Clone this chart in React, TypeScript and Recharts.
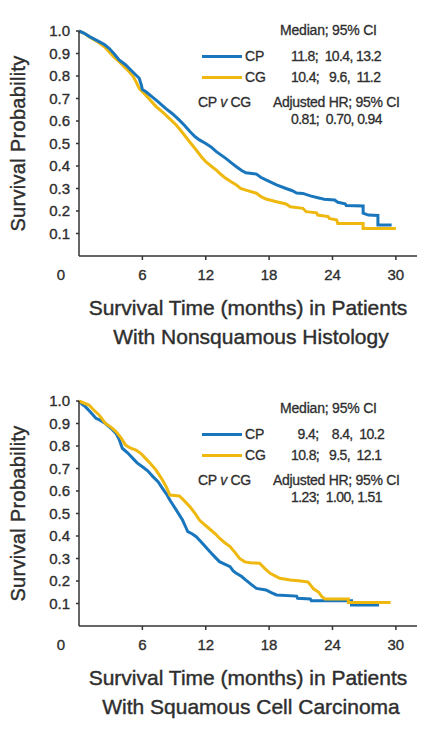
import React from 'react'
import { LineChart, Line, XAxis, YAxis, Legend, Label } from 'recharts'

// axis ticks
const monthTicks = [0, 6, 12, 18, 24, 30]
const probTicks = [0.1, 0.2, 0.3, 0.4, 0.5, 0.6, 0.7, 0.8, 0.9, 1.0]

// nonsquamous histology
const nonsqCpTime = [0, 0.5, 1, 1.9, 2.4, 2.85, 3.3, 3.8, 4.4, 5.07, 5.7, 5.9, 6, 6.34, 6.9, 7.5, 8.2, 8.9, 9.5, 10, 10.5, 11, 11.4, 12, 12.5, 13, 13.9, 14.4, 14.9, 15.4, 15.8, 16.8, 17.2, 17.7, 18.7, 19.6, 20.2, 20.6, 21.2, 21.9, 22.8, 23.2, 24.2, 24.5, 25.2, 25.3, 26.9, 26.9, 27.4, 28.3, 28.3, 29.6]
const nonsqCpSurv = [1, 0.99, 0.975, 0.953, 0.94, 0.923, 0.9, 0.871, 0.85, 0.819, 0.79, 0.76, 0.74, 0.73, 0.708, 0.685, 0.656, 0.63, 0.604, 0.58, 0.553, 0.53, 0.516, 0.5, 0.485, 0.464, 0.434, 0.415, 0.397, 0.38, 0.37, 0.364, 0.35, 0.338, 0.316, 0.3, 0.29, 0.28, 0.278, 0.267, 0.257, 0.252, 0.249, 0.239, 0.232, 0.224, 0.222, 0.19, 0.182, 0.18, 0.138, 0.138]
const nonsqCgTime = [0, 0.5, 0.95, 1.9, 2.4, 2.85, 3.3, 3.8, 4.3, 4.75, 5.1, 5.4, 5.7, 6.3, 6.8, 7.3, 7.7, 8.2, 8.7, 9.2, 9.6, 10.1, 10.6, 11.1, 11.6, 12, 12.5, 13, 13.5, 13.9, 14.4, 14.9, 15.3, 15.8, 16.8, 17.2, 17.7, 18.7, 19.6, 20, 21.2, 21.5, 22.5, 22.6, 23.6, 23.7, 24.4, 24.5, 26.9, 26.9, 30]
const nonsqCgSurv = [1, 0.99, 0.975, 0.948, 0.93, 0.908, 0.885, 0.864, 0.84, 0.819, 0.8, 0.775, 0.745, 0.716, 0.69, 0.664, 0.648, 0.627, 0.605, 0.582, 0.56, 0.53, 0.5, 0.471, 0.44, 0.419, 0.4, 0.382, 0.36, 0.345, 0.33, 0.316, 0.3, 0.293, 0.279, 0.265, 0.253, 0.241, 0.231, 0.219, 0.212, 0.197, 0.192, 0.182, 0.175, 0.167, 0.16, 0.145, 0.145, 0.122, 0.122]

// squamous cell carcinoma
const sqCpTime = [0, 0.3, 0.6, 1.1, 1.6, 2, 2.5, 3, 3.5, 3.8, 4.1, 4.6, 5.1, 5.5, 6, 6.5, 7, 7.5, 7.9, 8.3, 8.6, 9.2, 9.8, 10.1, 10.3, 10.7, 11.1, 11.7, 12.4, 12.9, 13.3, 14.3, 14.6, 14.9, 15.4, 15.8, 16.3, 16.8, 17.7, 18.2, 18.7, 20.6, 20.7, 21.9, 22, 25.8, 25.8, 28.4]
const sqCpSurv = [1, 0.985, 0.975, 0.95, 0.923, 0.915, 0.9, 0.88, 0.856, 0.83, 0.79, 0.77, 0.745, 0.725, 0.708, 0.69, 0.664, 0.64, 0.612, 0.585, 0.56, 0.516, 0.471, 0.44, 0.419, 0.41, 0.397, 0.367, 0.33, 0.305, 0.286, 0.264, 0.245, 0.234, 0.22, 0.204, 0.185, 0.167, 0.16, 0.148, 0.138, 0.133, 0.123, 0.12, 0.112, 0.112, 0.093, 0.093]
const sqCgTime = [0, 0.5, 0.95, 1.4, 1.9, 2.5, 3, 3.5, 4, 4.4, 4.9, 5.4, 5.9, 6.3, 6.8, 7.3, 7.9, 8.3, 8.6, 9.5, 10, 10.5, 11, 11.4, 11.9, 12.4, 12.9, 13.3, 13.8, 14.3, 14.8, 15.2, 15.7, 16.2, 17.1, 17.6, 18.1, 18.6, 19, 20, 21, 21.7, 22.2, 22.7, 23, 23.3, 25.5, 25.5, 29.5]
const sqCgSurv = [1, 0.99, 0.982, 0.96, 0.938, 0.9, 0.885, 0.864, 0.835, 0.804, 0.79, 0.782, 0.765, 0.745, 0.72, 0.693, 0.649, 0.615, 0.582, 0.578, 0.555, 0.53, 0.5, 0.471, 0.45, 0.43, 0.41, 0.39, 0.37, 0.353, 0.325, 0.3, 0.285, 0.281, 0.279, 0.255, 0.234, 0.222, 0.212, 0.204, 0.2, 0.195, 0.165, 0.15, 0.13, 0.12, 0.12, 0.105, 0.105]

// annotation text
const nonsqMedian = ['11.8;  10.4, 13.2', '10.4;   9.6,  11.2']
const nonsqHr = '0.81;  0.70, 0.94'
const nonsqTitle = ['Survival Time (months) in Patients', 'With Nonsquamous Histology']
const sqMedian = ['  9.4;    8.4,  10.2', '10.8;   9.5,  12.1']
const sqHr = '1.23;  1.00, 1.51'
const sqTitle = ['Survival Time (months) in Patients', 'With Squamous Cell Carcinoma']

const BLUE = '#1976bd'
const YELLOW = '#eeb80e'
const AXIS = '#333'
const TEXT = '#2e2e2e'
const SANS = '"Liberation Sans", Arial, sans-serif'

const toPoints = (time: number[], surv: number[]) => time.map((t, i) => ({ t, s: surv[i] }))

const XTick = (props: any) => {
  const { x, y, payload } = props
  const axisY = y - 14
  const v = payload.value
  return (
    <g>
      {v !== 0 && <line x1={x} x2={x} y1={axisY} y2={axisY + 4} stroke={AXIS} strokeWidth={1.5} />}
      <text x={v === 0 ? x - 18 : x} y={axisY + 19} dy="0.355em" textAnchor="middle"
        fontFamily={SANS} fontSize={15} fill={TEXT} stroke={TEXT} strokeWidth={0.35}>{v}</text>
    </g>
  )
}

const Stats = ({ payload, median, hr, shift }: any) => {
  const color = (name: string) => (payload || []).find((p: any) => p.value === name)?.color
  const txt: React.CSSProperties = {
    position: 'absolute', fontFamily: SANS, fontSize: 14, lineHeight: '16px', color: TEXT,
    whiteSpace: 'pre', WebkitTextStroke: '0.3px #2e2e2e',
  }
  const num: React.CSSProperties = { ...txt, letterSpacing: -0.6 }
  const row = (cy: number) => cy + shift - 8
  return (
    <div style={{ position: 'relative', width: 433, height: 140 }}>
      <div style={{ ...txt, left: 280, top: row(30), letterSpacing: -0.2 }}>Median; 95% CI</div>
      {['CP', 'CG'].map((name, i) => (
        <React.Fragment key={name}>
          <div style={{ position: 'absolute', left: 202, width: 40, height: 3, top: row(56 + i * 21) + 7, background: color(name) }} />
          <div style={{ ...txt, left: 245, top: row(56 + i * 21) }}>{name}</div>
          <div style={{ ...num, left: 291, top: row(56 + i * 21) }}>{median[i]}</div>
        </React.Fragment>
      ))}
      <div style={{ ...txt, left: 198, top: row(102), letterSpacing: -0.3 }}>CP <i>v</i> CG</div>
      <div style={{ ...txt, left: 273, top: row(102), letterSpacing: -0.3 }}>Adjusted HR; 95% CI</div>
      <div style={{ ...num, left: 291, top: row(119) }}>{hr}</div>
    </div>
  )
}

function Panel({ cp, cg, median, hr, title, shift, cpFirst }: any) {
  const cpLine = <Line key="cp" data={cp} dataKey="s" name="CP" stroke={BLUE} strokeWidth={3} dot={false} type="linear" isAnimationActive={false} />
  const cgLine = <Line key="cg" data={cg} dataKey="s" name="CG" stroke={YELLOW} strokeWidth={3} dot={false} type="linear" isAnimationActive={false} />
  return (
    <LineChart width={433} height={370} margin={{ top: 31, right: 16, left: 0, bottom: 84 }}>
      <XAxis dataKey="t" type="number" domain={[0, 32]} ticks={monthTicks} interval={0}
        tickSize={0} tickMargin={14} tick={<XTick />} height={30}
        axisLine={{ stroke: AXIS, strokeWidth: 1.5 }} allowDuplicatedCategory={false}>
        <Label content={(p: any) => {
          const vb = p.viewBox || { x: 79, y: 256, width: 338 }
          const cx = vb.x + vb.width / 2
          return (
            <text textAnchor="middle" fontFamily={SANS} fontSize={21} fill={TEXT} stroke={TEXT} strokeWidth={0.4}>
              <tspan x={cx} y={vb.y + 52} dy="0.355em">{title[0]}</tspan>
              <tspan x={cx + 3} y={vb.y + 81} dy="0.355em">{title[1]}</tspan>
            </text>
          )
        }} />
      </XAxis>
      <YAxis type="number" domain={[0, 1]} ticks={probTicks} interval={0} width={79}
        tickSize={3} tickMargin={6} tickFormatter={(v: number) => v.toFixed(1)}
        tick={{ fontFamily: SANS, fontSize: 15, fill: TEXT, stroke: TEXT, strokeWidth: 0.35 }}
        tickLine={{ stroke: AXIS, strokeWidth: 1.5 }}
        axisLine={{ stroke: AXIS, strokeWidth: 1.5 }}>
        <Label content={(p: any) => {
          const vb = p.viewBox || { x: 0, y: 31, height: 225 }
          const cx = vb.x + 18
          const cy = vb.y + vb.height / 2
          return (
            <text x={cx} y={cy} dy="0.355em" textAnchor="middle" transform={`rotate(-90 ${cx} ${cy})`}
              fontFamily={SANS} fontSize={20} letterSpacing={0.3} fill={TEXT} stroke={TEXT} strokeWidth={0.4}>Survival Probability</text>
          )
        }} />
      </YAxis>
      {cpFirst ? [cpLine, cgLine] : [cgLine, cpLine]}
      <Legend verticalAlign="middle" align="center" layout="horizontal"
        wrapperStyle={{ left: 0, top: 0, width: 433, height: 140 }}
        content={(p: any) => <Stats payload={p.payload} median={median} hr={hr} shift={shift} />} />
    </LineChart>
  )
}

export default function App() {
  return (
    <div style={{ position: 'absolute', left: 0, top: 0, width: 433, height: 733, background: '#fff' }}>
      <Panel cp={toPoints(nonsqCpTime, nonsqCpSurv)} cg={toPoints(nonsqCgTime, nonsqCgSurv)}
        median={nonsqMedian} hr={nonsqHr} title={nonsqTitle} shift={0} cpFirst={false} />
      <div style={{ position: 'absolute', left: 0, top: 370 }}>
        <Panel cp={toPoints(sqCpTime, sqCpSurv)} cg={toPoints(sqCgTime, sqCgSurv)}
          median={sqMedian} hr={sqHr} title={sqTitle} shift={8} cpFirst={true} />
      </div>
    </div>
  )
}
